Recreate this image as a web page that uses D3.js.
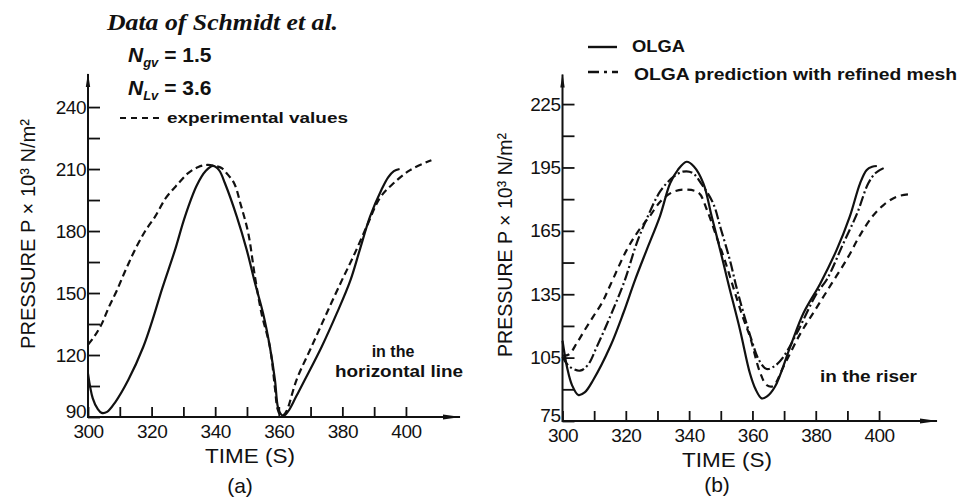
<!DOCTYPE html>
<meta charset="utf-8">
<script src="https://cdn.jsdelivr.net/npm/d3@7"></script>
<style>
body { margin: 0; background: #fff; }
text { font-family: "Liberation Sans", Arial, sans-serif; fill: #111; }
</style>
<body>
<script>

// ---- values ----
var xTicks = [300, 310, 320, 330, 340, 350, 360, 370, 380, 390, 400];
var xTickLabels = [300, 320, 340, 360, 380, 400];

var leftYTicks = [90, 105, 120, 135, 150, 165, 180, 195, 210, 225, 240];
var leftYLabels = [90, 120, 150, 180, 210, 240];
var rightYTicks = [75, 90, 105, 120, 135, 150, 165, 180, 195, 210, 225];
var rightYLabels = [75, 105, 135, 165, 195, 225];

// (a) horizontal line, OLGA (solid)
var aOlgaT = [300, 301.5, 303, 304.3, 306, 308.5, 312.7, 317.4, 320.3, 323.3, 327.4, 330.5, 334.2, 337, 339.3, 341.2, 343.1, 346.8, 349.9, 352.5, 355.1, 357.2, 358.8, 359.7, 360.6, 361.5, 362.3, 363.3, 365.5, 368.2, 373.5, 378.2, 382.5, 385.5, 388.7, 392.3, 394.4, 396.2, 398];
var aOlgaP = [111, 99, 94, 92, 92.5, 97, 108, 124, 137, 152, 171, 187, 202, 209, 211.5, 209.5, 203, 187, 171, 155, 140, 124, 108, 95, 91.5, 90.5, 91.5, 93.5, 100, 108, 124, 140, 156, 171, 187, 200, 206, 209, 210];
// (a) experimental values (dashed)
var aExpT = [300, 302, 304.3, 306.5, 309, 311.8, 314.8, 318, 321.1, 324.5, 328.4, 331.5, 334.7, 337.5, 340, 342, 343.6, 346, 348, 350.4, 352.5, 354.6, 357.2, 358.8, 359.6, 360.5, 361.5, 362.5, 365.6, 370.3, 375, 379.8, 383.4, 387.6, 391.8, 396, 401.3, 408];
var aExpP = [125, 129, 135, 143, 151, 161, 171, 180, 187, 196, 203, 208, 211, 212, 211.5, 210.5, 208, 203, 193, 179, 158, 140, 124, 104, 94, 91, 91, 93, 108, 124, 140, 156, 167.5, 182, 196, 203, 209.5, 214.3];

// (b) riser, OLGA (solid)
var bOlgaT = [300, 301.5, 303, 305, 307, 309.7, 315, 319.2, 322.9, 326.6, 330.8, 334, 336.5, 339.2, 341.5, 344.5, 347.1, 349.8, 352.4, 356.1, 359.2, 361, 362.9, 364.5, 367.1, 371.9, 376.1, 381.4, 386.6, 390.8, 394, 396.1, 397.8, 399.3];
var bOlgaP = [113, 100, 92, 87.3, 88.5, 94.4, 110, 126, 141.7, 156, 172, 187.5, 194, 197.7, 195.5, 187.5, 172, 156, 140, 118, 97.6, 90, 85.7, 86.5, 91.2, 110, 126, 140, 156, 172, 187.5, 193.8, 195.3, 195.7];
// (b) OLGA with refined mesh (dash-dot)
var bMeshT = [300, 302, 305.5, 308, 310.8, 315.5, 319.7, 323.4, 327, 331, 335, 338, 341, 344, 347.6, 350, 352.9, 355, 357, 359.8, 362, 364.5, 367, 369.8, 374, 380.3, 383.5, 388.7, 393, 396.6, 399, 401.9];
var bMeshP = [105.4, 101, 98.8, 101.5, 110, 126, 141.7, 159, 172, 184, 190.5, 193, 192.5, 187, 178, 166, 151, 138, 127, 113, 104, 99.6, 101, 105.4, 116.5, 135.4, 142, 159, 173, 187.5, 192.5, 195];
// (b) experimental values (dashed)
var bExpT = [300, 302, 304.5, 307, 309.7, 312.5, 315, 320.3, 324, 327.6, 331, 335, 339, 343, 345.6, 348.7, 351.5, 354, 357, 359.2, 362.4, 364.5, 366.5, 369.8, 375, 380, 385, 390, 394, 398, 401.4, 405.6, 410.3];
var bExpP = [106, 106.5, 111.8, 118, 124.4, 131, 139, 156, 165, 172, 179, 183.5, 184.5, 183, 175, 162, 150, 138, 124, 115, 98, 92, 91.5, 100.7, 116, 128, 140, 152, 163, 172, 177.2, 181.2, 182.4];

var width = 960, height = 498;

var svg = d3.select("body").append("svg")
    .attr("width", width)
    .attr("height", height);

var defs = svg.append("defs");
defs.append("marker").attr("id", "arrX")
    .attr("viewBox", "0 0 18 6").attr("refX", 17).attr("refY", 3)
    .attr("markerUnits", "userSpaceOnUse")
    .attr("markerWidth", 18).attr("markerHeight", 6).attr("orient", "auto")
  .append("path").attr("d", "M0,0.5 L18,3 L0,5.5 Z").attr("fill", "#111");
defs.append("marker").attr("id", "arrY")
    .attr("viewBox", "0 0 14 6").attr("refX", 13).attr("refY", 3)
    .attr("markerUnits", "userSpaceOnUse")
    .attr("markerWidth", 14).attr("markerHeight", 6).attr("orient", "auto")
  .append("path").attr("d", "M0,0.8 L14,3 L0,5.2 Z").attr("fill", "#111");

function zip(t, p) {
    return t.map(function(d, i) { return [d, p[i]]; });
}

function panel(cfg) {
    var x = d3.scaleLinear().domain(cfg.xDomain).range(cfg.xRange);
    var y = d3.scaleLinear().domain(cfg.yDomain).range(cfg.yRange);
    var g = svg.append("g");

    // axes with ticks pointing into the plot
    var yAx = g.append("g")
        .attr("transform", "translate(" + cfg.xRange[0] + ",0)")
        .call(d3.axisLeft(y).tickValues(cfg.yTicks).tickSize(-12).tickSizeOuter(0).tickPadding(2)
            .tickFormat(function(d) { return cfg.yLabels.indexOf(d) >= 0 ? d : ""; }));
    var xAx = g.append("g")
        .attr("transform", "translate(0," + cfg.yRange[0] + ")")
        .call(d3.axisBottom(x).tickValues(xTicks).tickSize(-10).tickSizeOuter(0).tickPadding(8)
            .tickFormat(function(d) { return xTickLabels.indexOf(d) >= 0 ? d : ""; }));
    [yAx, xAx].forEach(function(a) {
        a.select(".domain").remove();
        a.attr("font-family", null).attr("font-size", null);
        a.selectAll("line").attr("stroke", "#111").attr("stroke-width", 1.8);
        a.selectAll("text").style("font-size", "19px").style("letter-spacing", "-0.5px");
    });
    // lowest y label sits a little above the x axis, clear of the "300"
    yAx.selectAll(".tick text")
        .filter(function(d) { return d === cfg.yDomain[0]; })
        .attr("y", -6);

    // axis lines with arrows
    g.append("line")
        .attr("x1", x(cfg.xDomain[0])).attr("x2", x(cfg.xDomain[1]))
        .attr("y1", y(cfg.yDomain[0])).attr("y2", y(cfg.yDomain[0]))
        .attr("stroke", "#111").attr("stroke-width", 2)
        .attr("marker-end", "url(#arrX)");
    g.append("line")
        .attr("x1", x(cfg.xDomain[0])).attr("x2", x(cfg.xDomain[0]))
        .attr("y1", y(cfg.yDomain[0]) + 1).attr("y2", y(cfg.yDomain[1]))
        .attr("stroke", "#111").attr("stroke-width", 2)
        .attr("marker-end", "url(#arrY)");

    var line = d3.line()
        .x(function(d) { return x(d[0]); })
        .y(function(d) { return y(d[1]); })
        .curve(d3.curveCatmullRom.alpha(0.5));

    cfg.series.forEach(function(s) {
        g.append("path")
            .datum(zip(s.t, s.p))
            .attr("d", line)
            .attr("fill", "none")
            .attr("stroke", "#111")
            .attr("stroke-width", 2.2)
            .attr("stroke-dasharray", s.dash);
    });

    // axis titles
    g.append("text")
        .attr("x", cfg.timeX).attr("y", cfg.timeY)
        .attr("text-anchor", "middle")
        .attr("textLength", 90).attr("lengthAdjust", "spacingAndGlyphs")
        .style("font-size", "21px")
        .text("TIME (S)");
    g.append("text")
        .attr("x", cfg.subX).attr("y", cfg.subY)
        .attr("text-anchor", "middle")
        .style("font-size", "21px")
        .text(cfg.sub);
    g.append("text")
        .attr("transform", "translate(" + cfg.pX + "," + cfg.pY + ") rotate(-90)")
        .attr("textLength", cfg.pLen).attr("lengthAdjust", "spacingAndGlyphs")
        .style("font-size", "21px")
        .text("PRESSURE   P \u00d7 10\u00b3 N/m\u00b2");
    return { x: x, y: y, g: g };
}

var pa = panel({
    xDomain: [300, 417], xRange: [88, 460],
    yDomain: [90, 256], yRange: [417, 74],
    yTicks: leftYTicks, yLabels: leftYLabels,
    timeX: 250, timeY: 463, sub: "(a)", subX: 240, subY: 493,
    pX: 35, pY: 349, pLen: 230,
    series: [
        { t: aOlgaT, p: aOlgaP, dash: null },
        { t: aExpT, p: aExpP, dash: "7,4" }
    ]
});

var pb = panel({
    xDomain: [300, 418.3], xRange: [562.5, 937],
    yDomain: [75, 239], yRange: [421, 74.5],
    yTicks: rightYTicks, yLabels: rightYLabels,
    timeX: 727, timeY: 467, sub: "(b)", subX: 717, subY: 492,
    pX: 512, pY: 357, pLen: 224,
    series: [
        { t: bOlgaT, p: bOlgaP, dash: null },
        { t: bMeshT, p: bMeshP, dash: "10,3,2,3" },
        { t: bExpT, p: bExpP, dash: "7,5" }
    ]
});

// ---- annotations, left panel ----
svg.append("text")
    .attr("x", 107).attr("y", 30)
    .attr("textLength", 231).attr("lengthAdjust", "spacingAndGlyphs")
    .style("font-family", "'Liberation Serif', 'Times New Roman', serif")
    .style("font-weight", "bold").style("font-style", "italic").style("font-size", "24px")
    .text("Data of Schmidt et al.");

function nLabel(yb, sub, val) {
    var t = svg.append("text").attr("x", 128).attr("y", yb)
        .style("font-weight", "bold").style("font-size", "21px");
    t.append("tspan").style("font-style", "italic").text("N");
    t.append("tspan").attr("dy", 5).style("font-style", "italic").style("font-size", "13px").text(sub);
    t.append("tspan").attr("dy", -5).text(" = " + val);
}
nLabel(62, "gv", "1.5");
nLabel(95, "Lv", "3.6");

svg.append("line")
    .attr("x1", 120).attr("x2", 160).attr("y1", 118).attr("y2", 118)
    .attr("stroke", "#111").attr("stroke-width", 2.2).attr("stroke-dasharray", "6,5");
svg.append("text").attr("x", 167).attr("y", 123)
    .attr("textLength", 181).attr("lengthAdjust", "spacingAndGlyphs")
    .style("font-weight", "bold").style("font-size", "15px")
    .text("experimental values");

svg.append("text").attr("x", 393).attr("y", 357).attr("text-anchor", "middle")
    .style("font-weight", "bold").style("font-size", "16px").text("in the");
svg.append("text").attr("x", 399).attr("y", 377).attr("text-anchor", "middle")
    .attr("textLength", 128).attr("lengthAdjust", "spacingAndGlyphs")
    .style("font-weight", "bold").style("font-size", "16px").text("horizontal line");

// ---- annotations, right panel ----
svg.append("line")
    .attr("x1", 588).attr("x2", 617).attr("y1", 47).attr("y2", 47)
    .attr("stroke", "#111").attr("stroke-width", 2.4);
svg.append("text").attr("x", 632).attr("y", 52)
    .attr("textLength", 53).attr("lengthAdjust", "spacingAndGlyphs")
    .style("font-weight", "bold").style("font-size", "16px").text("OLGA");
svg.append("line")
    .attr("x1", 588).attr("x2", 618).attr("y1", 72).attr("y2", 72)
    .attr("stroke", "#111").attr("stroke-width", 2.4).attr("stroke-dasharray", "11,5,3,5");
svg.append("text").attr("x", 634).attr("y", 80)
    .attr("textLength", 323).attr("lengthAdjust", "spacingAndGlyphs")
    .style("font-weight", "bold").style("font-size", "16px").text("OLGA prediction with refined mesh");

svg.append("text").attr("x", 820).attr("y", 382)
    .attr("textLength", 97).attr("lengthAdjust", "spacingAndGlyphs")
    .style("font-weight", "bold").style("font-size", "16px").text("in the riser");

</script>
</body>
